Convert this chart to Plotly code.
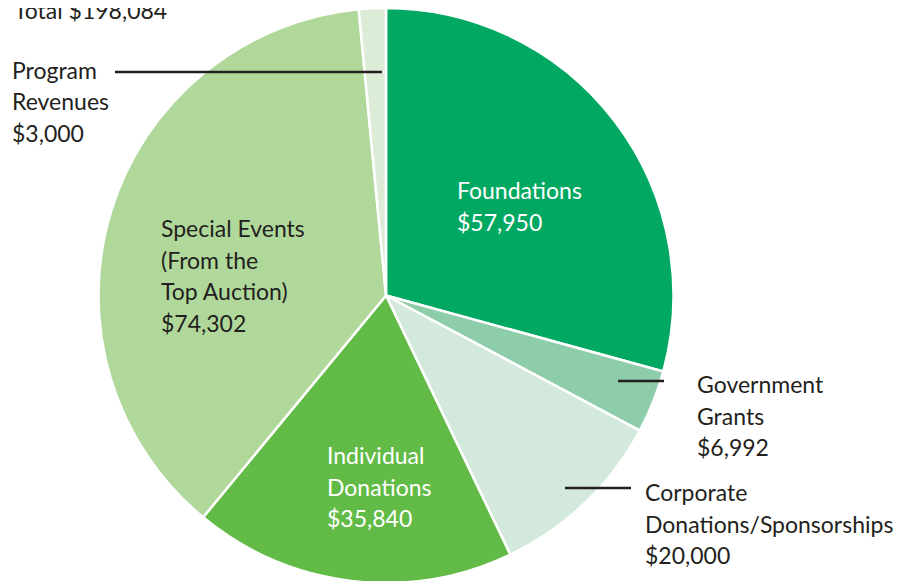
import plotly.graph_objects as go

# revenue sources, clockwise from 12 o'clock
sources = ["Foundations", "Government Grants", "Corporate Donations/Sponsorships",
           "Individual Donations", "Special Events (From the Top Auction)", "Program Revenues"]
amounts = [57950, 6992, 20000, 35840, 74302, 3000]
colors = ["#00a862", "#8ecda9", "#d2e9dc", "#63bb47", "#b1d89b", "#dcecd6"]

# how each label is broken over lines
label_lines = [
    ["Foundations"],
    ["Government", "Grants"],
    ["Corporate", "Donations/Sponsorships"],
    ["Individual", "Donations"],
    ["Special Events", "(From the", "Top Auction)"],
    ["Program", "Revenues"],
]

W, H = 907, 581
OX, OY = 10, 8  # page offset (body margin + text padding)
total = sum(amounts)

fig = go.Figure(go.Pie(
    labels=sources, values=amounts, sort=False, direction="clockwise", rotation=0,
    marker=dict(colors=colors, line=dict(color="white", width=2.5)),
    textinfo="none", hoverinfo="label+value", showlegend=False,
    domain=dict(x=[0, 756 / W], y=[6 / H, 1]),
))

# label placement in pixels: (left x, first line y, text colour)
label_pos = [
    (457, 190, "white"),
    (697, 384, "#231f20"),
    (645, 492, "#231f20"),
    (327, 455, "white"),
    (161, 228, "#231f20"),
    (12, 70, "#231f20"),
]
line_step = 31.5

def add_text(txt, px, py, color):
    fig.add_annotation(text=txt, x=(px - OX) / W, y=1 - (py - OY) / H,
                       xref="paper", yref="paper",
                       xanchor="left", yanchor="middle", showarrow=False,
                       font=dict(family="Lato, Open Sans, sans-serif", size=23, color=color))

for lines, amt, (px, py, col) in zip(label_lines, amounts, label_pos):
    for i, t in enumerate(lines + [f"${amt:,}"]):
        add_text(t, px, py + i * line_step, col)

add_text(f"Total ${total:,}", 14, 10, "#231f20")

# leader lines for small slices
leaders = [(115, 382, 72), (618, 664, 381), (565, 631, 488)]
for x0, x1, y in leaders:
    fig.add_shape(type="line", xref="paper", yref="paper",
                  x0=(x0 - 8) / W, x1=(x1 - 8) / W,
                  y0=1 - (y - OY) / H, y1=1 - (y - OY) / H,
                  line=dict(color="#231f20", width=2.5))

fig.update_layout(width=W, height=H, margin=dict(l=0, r=0, t=0, b=0),
                  paper_bgcolor="white", plot_bgcolor="white")
fig.write_html("out.html")
